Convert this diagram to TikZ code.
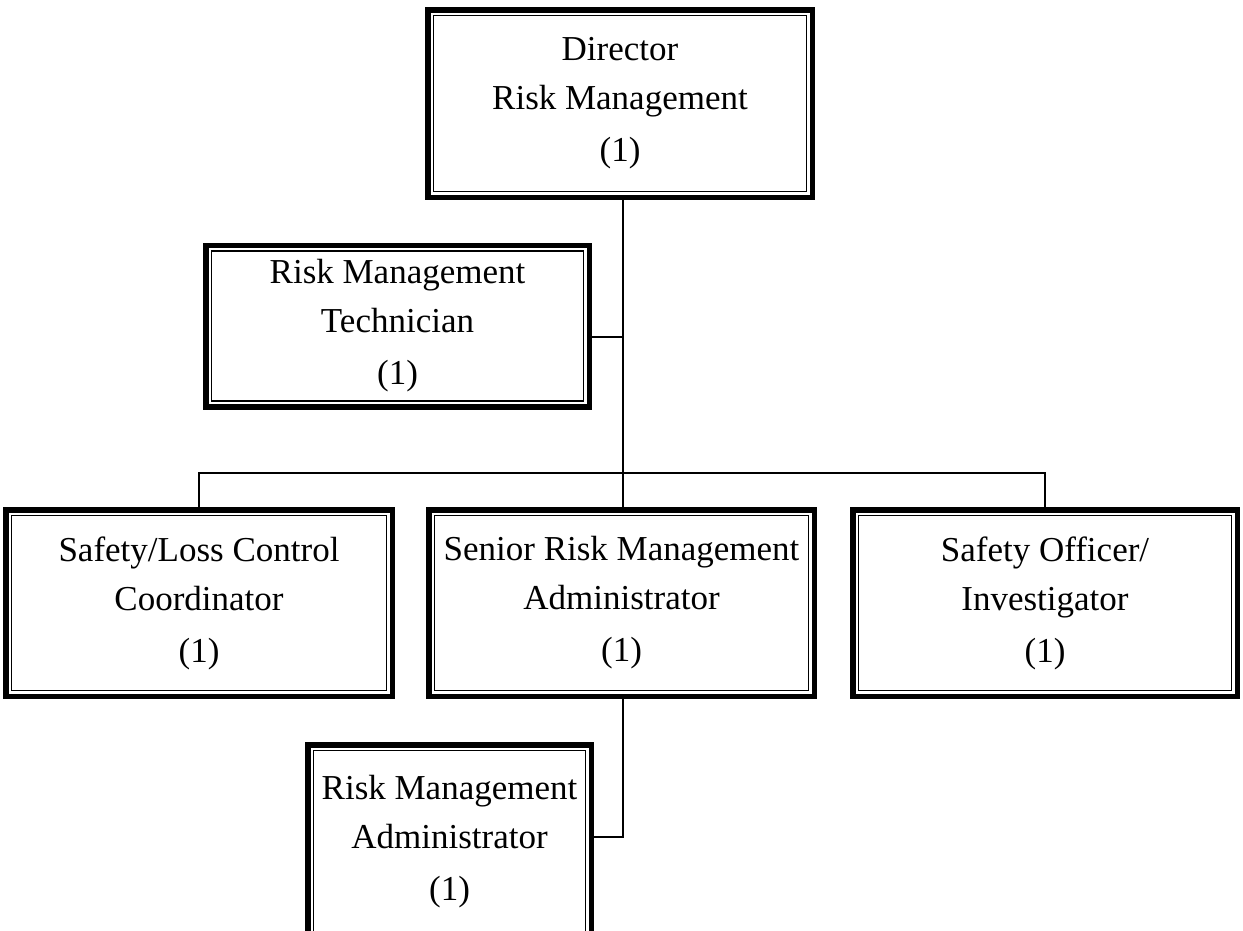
\documentclass[tikz,border=0pt]{standalone}
\usepackage{fontspec}
\setmainfont{Liberation Serif}
\usetikzlibrary{positioning, calc}

\begin{document}
\begin{tikzpicture}[
    x=1pt, y=-1pt,
    every node/.style={font=\fontsize{35}{49}\selectfont},
    post/.style={rectangle, draw=black, fill=white, line width=5.5pt,
                 inner sep=0pt, align=center},
    inner/.style={draw=black, line width=1.8pt},
    link/.style={draw=black, line width=2pt},
]

\useasboundingbox (0,0) rectangle (1243,930);
\clip (0,0) rectangle (1243,930);

\node[post, minimum width=384.5pt, minimum height=187.5pt] (dir) at (620,103.5)
    {Director\\Risk Management\\[3pt](1)};
\node[post, minimum width=383.5pt, minimum height=161.5pt] (tech) at (397.5,326)
    {Risk Management\\Technician\\[3pt](1)};
\node[post, minimum width=386.5pt, minimum height=186.5pt] (loss) at (199,603)
    {Safety/Loss Control\\Coordinator\\[3pt](1)};
\node[post, minimum width=385.5pt, minimum height=186.5pt] (senior) at (621.5,603)
    {Senior Risk Management\\Administrator\\[3pt](1)};
\node[post, minimum width=384.5pt, minimum height=186.5pt] (officer) at (1045,603)
    {Safety Officer/\\Investigator\\[3pt](1)};
\node[post, minimum width=283.5pt, minimum height=194.5pt] (admin) at (449.5,842)
    {Risk Management\\Administrator\\[3pt](1)};

% inner frame of each box
\foreach \n in {dir, tech, loss, senior, officer, admin}
    \draw[inner] ([xshift=8.5pt, yshift=-8.5pt]\n.north west)
        rectangle ([xshift=-8.5pt, yshift=8.5pt]\n.south east);

\coordinate (bus) at (623,473);

\draw[link] (dir.south -| bus) -- (senior.north -| bus);
\draw[link] ([yshift=-11pt]tech.east) -- ([yshift=-11pt]tech.east -| bus);
\draw[link] (loss.north) |- (bus) -| (officer.north);
\draw[link] (senior.south -| bus) |- ([yshift=5pt]admin.east);

\end{tikzpicture}
\end{document}
